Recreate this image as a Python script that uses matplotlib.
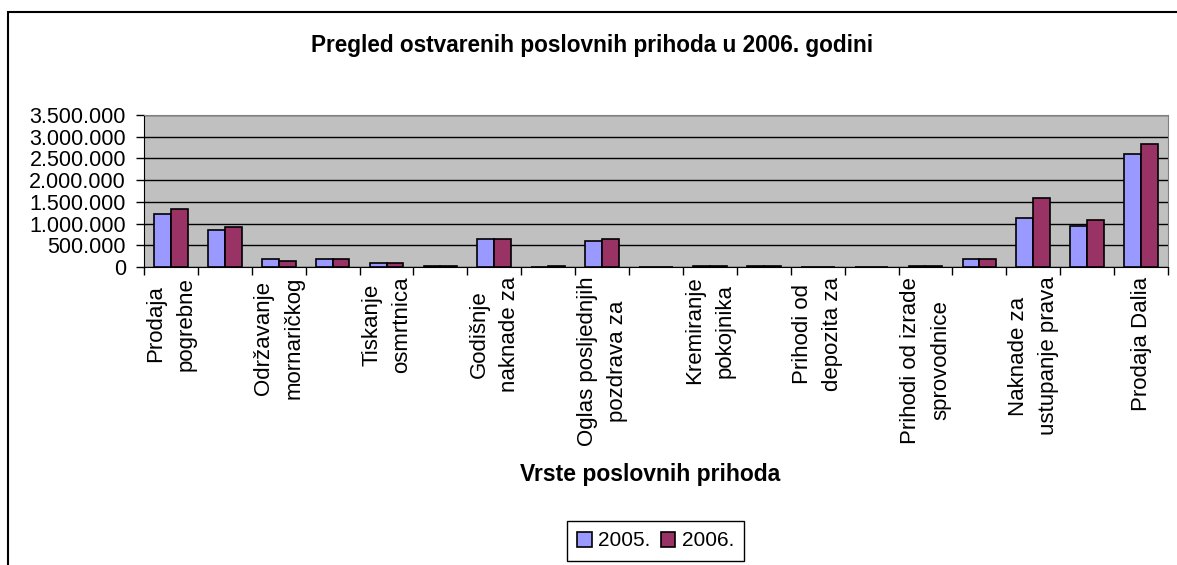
import numpy as np
import matplotlib.pyplot as plt
from matplotlib.patches import Rectangle

plt.rcParams['font.family'] = ['Liberation Sans', 'DejaVu Sans']

# Vrste poslovnih prihoda (samo vidljivi natpisi, svaki drugi)
kategorije = ['Prodaja\npogrebne', '', 'Održavanje\nmornaričkog', '', 'Tiskanje\nosmrtnica', '',
              'Godišnje\nnaknade za', '', 'Oglas posljednjih\npozdrava za', '',
              'Kremiranje\npokojnika', '', 'Prihodi od\ndepozita za', '',
              'Prihodi od izrade\nsprovodnice', '', 'Naknade za\nustupanje prava', '', 'Prodaja Dalia']

prihodi_2005 = [1225000, 860000, 175000, 175000, 85000, 25000, 640000, 0, 590000, 0,
                25000, 25000, 0, 0, 25000, 175000, 1135000, 955000, 2600000]
prihodi_2006 = [1325000, 915000, 130000, 175000, 85000, 25000, 640000, 25000, 635000, 0,
                25000, 25000, 0, 0, 25000, 175000, 1600000, 1090000, 2830000]

y_oznake = [0, 500000, 1000000, 1500000, 2000000, 2500000, 3000000, 3500000]

fig = plt.figure(figsize=(11.77, 5.65), dpi=100)
ax = fig.add_axes([144 / 1177, 298 / 565, 1024 / 1177, 152 / 565])
ax.set_facecolor('#C0C0C0')

x = np.arange(len(kategorije))
sirina = 0.3125
ax.bar(x - sirina / 2, prihodi_2005, sirina, color='#9999FF', edgecolor='black', linewidth=1.2, label='2005.', zorder=3)
ax.bar(x + sirina / 2, prihodi_2006, sirina, color='#993366', edgecolor='black', linewidth=1.2, label='2006.', zorder=3)

ax.set_xlim(-0.5, len(kategorije) - 0.5)
ax.set_ylim(0, 3500000)
ax.set_yticks(y_oznake)
ax.set_yticklabels([f'{v:,}'.replace(',', '.') for v in y_oznake], fontsize=15.5)
ax.yaxis.grid(True, color='black', linewidth=1.0, zorder=1)
ax.set_axisbelow(True)

# crtice izmedu kategorija, natpisi u sredini
ax.set_xticks(np.arange(len(kategorije) + 1) - 0.5)
ax.set_xticklabels([])
ax.set_xticks(x, kategorije, minor=True)
ax.tick_params(axis='x', which='major', direction='out', length=6, width=1)
ax.tick_params(axis='x', which='minor', length=0, pad=7)
ax.tick_params(axis='y', direction='out', length=6, width=1, pad=7)
for lbl in ax.get_xticklabels(minor=True):
    lbl.set_rotation(90)
    lbl.set_fontsize(16)
    lbl.set_linespacing(1.55)
    lbl.set_va('top')
    lbl.set_ha('center')

ax.spines['left'].set_color('black')
ax.spines['bottom'].set_color('black')
ax.spines['top'].set_color('#808080')
ax.spines['right'].set_color('#808080')

fig.text(0.503, 0.920, 'Pregled ostvarenih poslovnih prihoda u 2006. godini',
         ha='center', va='center', fontsize=16.3, fontweight='bold')
fig.text(650 / 1177, 1 - 474 / 565, 'Vrste poslovnih prihoda',
         ha='center', va='center', fontsize=16.5, fontweight='bold')

leg = fig.legend(loc='center', bbox_to_anchor=(655.5 / 1177, 1 - 541 / 565), ncol=2, fontsize=15,
                 frameon=True, fancybox=False, edgecolor='black', framealpha=1,
                 handlelength=0.7, handleheight=0.7, handletextpad=0.3, columnspacing=0.5,
                 borderpad=0.5, borderaxespad=0)
leg.get_frame().set_linewidth(1.0)

# okvir grafikona
fig.patches.append(Rectangle((8 / 1177, -0.2), 1.1, 1.2 - 12 / 565, transform=fig.transFigure,
                             fill=False, edgecolor='black', linewidth=1.5))

fig.savefig('out.png', dpi=100)
